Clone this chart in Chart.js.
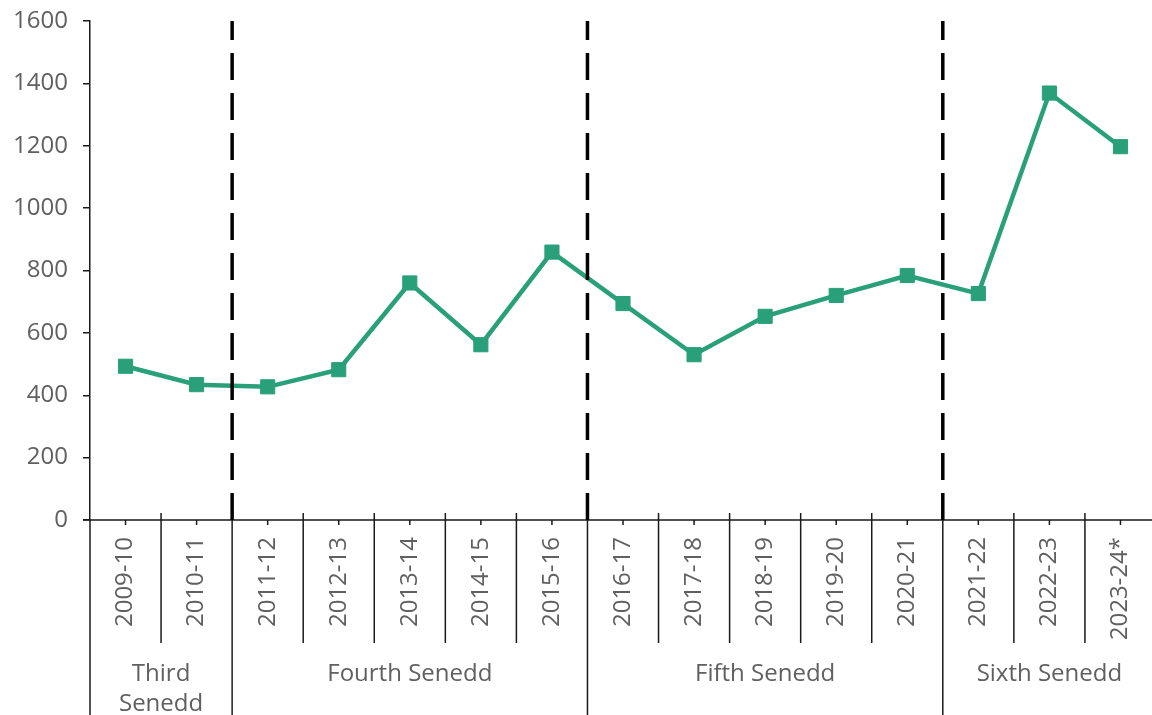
<!DOCTYPE html>
<html>
<head>
<meta charset="utf-8">
<script src="https://cdn.jsdelivr.net/npm/chart.js@4/dist/chart.umd.min.js"></script>
<style>
  html, body { margin: 0; padding: 0; background: #fff; overflow: hidden; }
  #wrap { width: 1167px; height: 715px; }
</style>
</head>
<body>
<div id="wrap"><canvas id="chart-canvas"></canvas></div>
<script>
// Data
const years = ["2009-10", "2010-11", "2011-12", "2012-13", "2013-14", "2014-15", "2015-16",
  "2016-17", "2017-18", "2018-19", "2019-20", "2020-21", "2021-22", "2022-23", "2023-24*"];
const counts = [493, 434, 427, 482, 760, 562, 859, 694, 530, 653, 720, 784, 726, 1369, 1197];
const groupNames = ["Third Senedd", "Fourth Senedd", "Fifth Senedd", "Sixth Senedd"];
const groupSizes = [2, 5, 5, 3];
const yTicks = [0, 200, 400, 600, 800, 1000, 1200, 1400, 1600];

const GREEN = "rgb(41, 160, 122)";
const TEXT = "#606060";
const AXIS = "#1a1a1a";
const FONT = "'Open Sans', sans-serif";

// Draws the two-level category axis and the dashed Senedd boundaries
const groupedAxis = {
  id: "groupedAxis",
  afterDraw(chart) {
    const ctx = chart.ctx;
    const area = chart.chartArea;
    const x = chart.scales.x;
    const step = (area.right - area.left) / years.length;
    const bottom = chart.height;

    ctx.save();
    ctx.strokeStyle = AXIS;
    ctx.lineWidth = 1.5;

    // x axis line
    ctx.beginPath();
    ctx.moveTo(area.left - 7, area.bottom);
    ctx.lineTo(chart.width, area.bottom);
    // y axis continues down through the label area
    ctx.moveTo(area.left, area.bottom);
    ctx.lineTo(area.left, bottom);
    ctx.stroke();

    // tick marks at category centres and year labels
    ctx.fillStyle = TEXT;
    ctx.font = "24px " + FONT;
    ctx.textAlign = "right";
    ctx.textBaseline = "middle";
    years.forEach((label, i) => {
      const cx = x.getPixelForValue(i);
      ctx.beginPath();
      ctx.moveTo(cx, area.bottom);
      ctx.lineTo(cx, area.bottom + 5);
      ctx.stroke();
      ctx.save();
      ctx.translate(cx, area.bottom + 17);
      ctx.rotate(-Math.PI / 2);
      ctx.fillText(label, 0, 0);
      ctx.restore();
    });

    // separators between years and between groups
    let idx = 0;
    const boundaries = [];
    groupSizes.forEach((size, g) => {
      const start = idx;
      for (let k = 1; k < size; k++) {
        const sx = x.getPixelForValue(start + k) - step / 2;
        ctx.beginPath();
        ctx.moveTo(sx, area.bottom - 7);
        ctx.lineTo(sx, area.bottom + 123);
        ctx.stroke();
      }
      idx += size;
      const left = x.getPixelForValue(start) - step / 2;
      const right = x.getPixelForValue(idx - 1) + step / 2;
      if (g < groupSizes.length - 1) {
        boundaries.push(right);
        ctx.beginPath();
        ctx.moveTo(right, area.bottom);
        ctx.lineTo(right, bottom);
        ctx.stroke();
      }

      // group label, wrapped when the group is too narrow
      const name = groupNames[g];
      const cx = (left + right) / 2;
      ctx.textAlign = "center";
      if (ctx.measureText(name).width > right - left - 4) {
        const words = name.split(" ");
        ctx.fillText(words[0], cx, area.bottom + 154);
        ctx.fillText(words.slice(1).join(" "), cx, area.bottom + 184);
      } else {
        ctx.fillText(name, cx, area.bottom + 154);
      }
    });

    // dashed boundary lines through the plot
    ctx.lineWidth = 3.5;
    ctx.strokeStyle = "#000";
    ctx.setLineDash([27, 13]);
    ctx.lineDashOffset = 8;
    boundaries.forEach((bx) => {
      ctx.beginPath();
      ctx.moveTo(bx, area.top);
      ctx.lineTo(bx, area.bottom);
      ctx.stroke();
    });
    ctx.restore();
  },
};

const ctx = document.getElementById("chart-canvas").getContext("2d");
const myChart = new Chart(ctx, {
  type: "line",
  data: {
    labels: years,
    datasets: [
      {
        data: counts,
        borderColor: GREEN,
        backgroundColor: GREEN,
        borderWidth: 4.5,
        tension: 0,
        pointStyle: "rect",
        pointRadius: 10,
        pointBorderWidth: 1,
        pointBackgroundColor: GREEN,
        clip: false,
      },
    ],
  },
  options: {
    responsive: true,
    maintainAspectRatio: false,
    animation: false,
    events: [],
    layout: {
      padding: { top: 21, right: 0, bottom: 195, left: 0 },
    },
    plugins: {
      legend: { display: false },
      tooltip: { enabled: false },
    },
    scales: {
      x: {
        type: "category",
        offset: true,
        display: false,
      },
      y: {
        min: 0,
        max: 1600,
        afterBuildTicks: (scale) => {
          scale.ticks = yTicks.map((v) => ({ value: v }));
        },
        afterFit: (scale) => {
          scale.width = 90;
          scale.paddingTop = 0;
          scale.paddingBottom = 0;
        },
        border: { display: true, color: AXIS, width: 1.5 },
        grid: {
          drawOnChartArea: false,
          drawTicks: true,
          tickLength: 7,
          color: AXIS,
          lineWidth: 1.5,
        },
        ticks: {
          color: TEXT,
          padding: 15,
          font: { family: FONT, size: 24 },
          callback: (v) => String(v),
        },
      },
    },
  },
  plugins: [groupedAxis],
});
</script>
</body>
</html>
